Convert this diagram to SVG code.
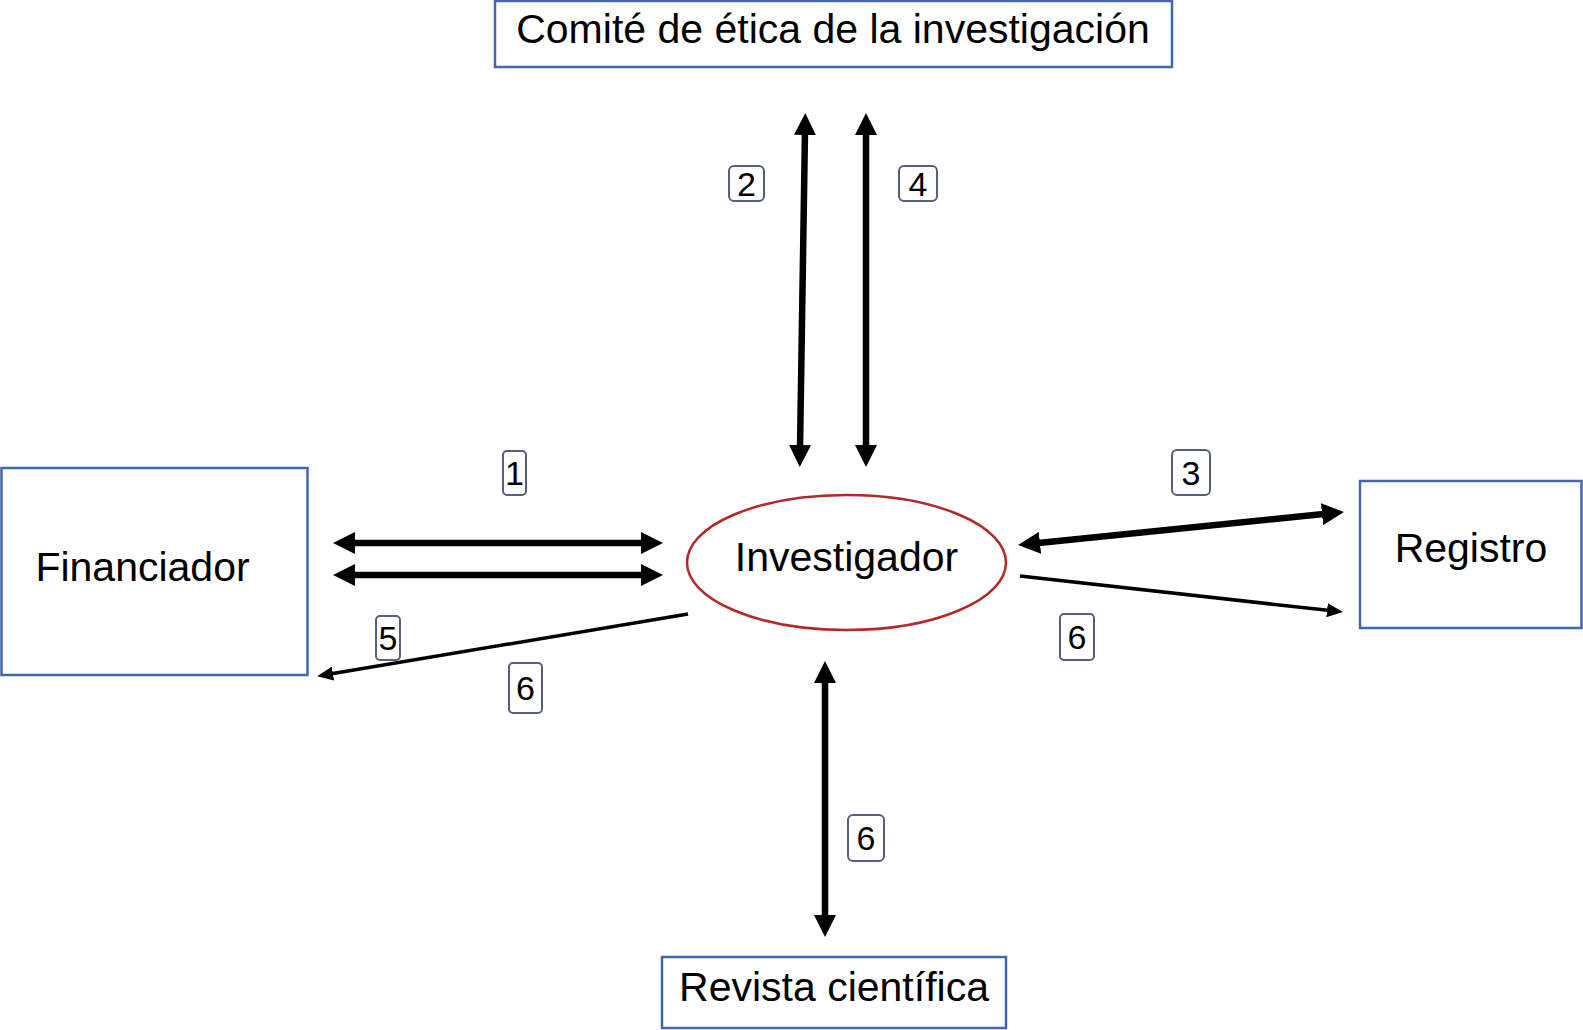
<svg xmlns="http://www.w3.org/2000/svg" width="1583" height="1030" viewBox="0 0 1583 1030">
<style>
.node{fill:#fff;stroke:#4565ad;stroke-width:2.5}
.ell{fill:#fff;stroke:#b3282d;stroke-width:2.5}
.t{font-family:"Liberation Sans",Arial,Helvetica,sans-serif;font-size:41px;fill:#000;text-anchor:middle}
.lb{fill:#fff;stroke:#56607c;stroke-width:2}
.n{font-family:"Liberation Sans",Arial,Helvetica,sans-serif;font-size:34px;fill:#000;text-anchor:middle}
.thick{stroke:#000;stroke-width:6.5;fill:none}
.thin{stroke:#000;stroke-width:3.5;fill:none}
</style>
<defs>
<marker id="hb" markerUnits="userSpaceOnUse" markerWidth="22" markerHeight="22" refX="4" refY="11" orient="auto-start-reverse" viewBox="0 0 22 22">
<path d="M0,0 L22,11 L0,22 z" fill="#000"/>
</marker>
<marker id="hs" markerUnits="userSpaceOnUse" markerWidth="16" markerHeight="14" refX="3" refY="7" orient="auto" viewBox="0 0 16 14">
<path d="M0,0 L16,7 L0,14 z" fill="#000"/>
</marker>
</defs>
<rect width="1583" height="1030" fill="#fff"/>
<g id="connectors">
<line class="thick" x1="805" y1="131" x2="800" y2="449" marker-start="url(#hb)" marker-end="url(#hb)"/>
<line class="thick" x1="866" y1="131" x2="866" y2="449" marker-start="url(#hb)" marker-end="url(#hb)"/>
<line class="thick" x1="351" y1="543" x2="645" y2="543" marker-start="url(#hb)" marker-end="url(#hb)"/>
<line class="thick" x1="351" y1="575" x2="645" y2="575" marker-start="url(#hb)" marker-end="url(#hb)"/>
<line class="thick" x1="1036" y1="543.2" x2="1326" y2="513.8" marker-start="url(#hb)" marker-end="url(#hb)"/>
<line class="thin" x1="1020" y1="576" x2="1330" y2="610.6" marker-end="url(#hs)"/>
<line class="thin" x1="688" y1="614" x2="330" y2="674" marker-end="url(#hs)"/>
<line class="thick" x1="825" y1="679" x2="825" y2="919" marker-start="url(#hb)" marker-end="url(#hb)"/>
</g>
<g id="comite">
<rect class="node" x="495" y="1" width="677" height="66"/>
<text class="t" x="833" y="43">Comité de ética de la investigación</text>
</g>
<g id="financiador">
<rect class="node" x="1.5" y="468" width="306" height="207"/>
<text class="t" x="142.5" y="581">Financiador</text>
</g>
<g id="investigador">
<ellipse class="ell" cx="846.5" cy="562.5" rx="159.5" ry="67.5"/>
<text class="t" x="846.5" y="571">Investigador</text>
</g>
<g id="registro">
<rect class="node" x="1360" y="481" width="221.5" height="147"/>
<text class="t" x="1471" y="562">Registro</text>
</g>
<g id="revista">
<rect class="node" x="662" y="957" width="344" height="71"/>
<text class="t" x="834" y="1001">Revista científica</text>
</g>
<g id="labels">
<rect class="lb" x="503" y="451" width="23" height="44" rx="4"/><text class="n" x="514.5" y="485">1</text>
<rect class="lb" x="729" y="166" width="35" height="35" rx="5"/><text class="n" x="746.5" y="196">2</text>
<rect class="lb" x="899" y="166" width="38" height="35" rx="5"/><text class="n" x="918" y="196">4</text>
<rect class="lb" x="1172" y="450" width="38" height="45" rx="5"/><text class="n" x="1191" y="484.5">3</text>
<rect class="lb" x="376" y="616" width="24" height="44" rx="4"/><text class="n" x="388" y="650">5</text>
<rect class="lb" x="509" y="663" width="33" height="50" rx="4"/><text class="n" x="525.5" y="700">6</text>
<rect class="lb" x="1060" y="614" width="34" height="46" rx="4"/><text class="n" x="1077" y="649">6</text>
<rect class="lb" x="848" y="815" width="36" height="46" rx="5"/><text class="n" x="866" y="850">6</text>
</g>
</svg>
